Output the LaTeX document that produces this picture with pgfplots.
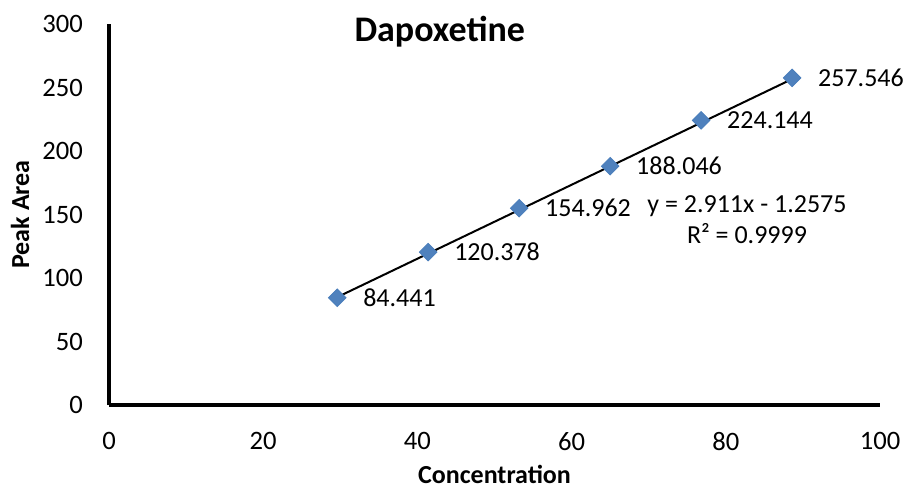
\documentclass[border=0pt]{standalone}
\usepackage{pgfplots}
\pgfplotsset{compat=1.18}
\usepackage{fontspec}
\setmainfont{Carlito}
\definecolor{mkfill}{HTML}{4F81BD}
\definecolor{mkdraw}{HTML}{4A7EBB}
\begin{document}
\fontsize{13}{15}\selectfont
\begin{tikzpicture}
\useasboundingbox (0,0) rectangle (454.5pt,243.5pt);
\begin{axis}[
  at={(54.5pt,41pt)}, anchor=south west,
  scale only axis, width=385.5pt, height=190.5pt,
  xmin=0, xmax=100, ymin=0, ymax=300,
  axis x line=bottom, axis y line=left,
  axis line style={-, line width=1.6pt},
  xtick={0,20,...,100}, ytick={0,50,...,300},
  major tick length=0pt,
  /pgf/number format/assume math mode=true,
  ticklabel style={font=\fontsize{13.3}{15}\selectfont},
  yticklabel style={anchor=east, xshift=-8.5pt},
  xticklabel style={anchor=north, yshift=-9pt},
  every axis y label/.style={at={(axis description cs:-0.1154,0.5)}, rotate=90, anchor=center, font=\bfseries\fontsize{13}{15}\selectfont},
  every axis x label/.style={at={(axis description cs:0.5,-0.182)}, anchor=center, font=\bfseries\fontsize{13}{15}\selectfont},
  ylabel={Peak Area}, xlabel={Concentration},
  clip=false,
]
\addplot[black, line width=1pt] coordinates {(29.6,84.91) (88.6,256.66)};
\addplot[only marks, mark=square*, mark size=3.1pt, mark options={rotate=45, fill=mkfill, draw=mkdraw},
  point meta=explicit symbolic,
  nodes near coords, nodes near coords style={anchor=west, xshift=8.5pt, font=\fontsize{13}{15}\selectfont, text=black}]
  coordinates {
  (29.6,84.441) [84.441]
  (41.4,120.378) [120.378]
  (53.2,154.962) [154.962]
  (65.0,188.046) [188.046]
  (76.8,224.144) [224.144]
  (88.6,257.546) [257.546]
  };
\node[font=\bfseries\fontsize{18}{21}\selectfont, anchor=center] at (axis description cs:0.429,0.979) {Dapoxetine};
\node[align=center, anchor=center, font=\fontsize{13}{15.5}\selectfont] at (axis cs:82.75,145.7) {y = 2.911x - 1.2575\\R² = 0.9999};
\end{axis}
\end{tikzpicture}
\end{document}
